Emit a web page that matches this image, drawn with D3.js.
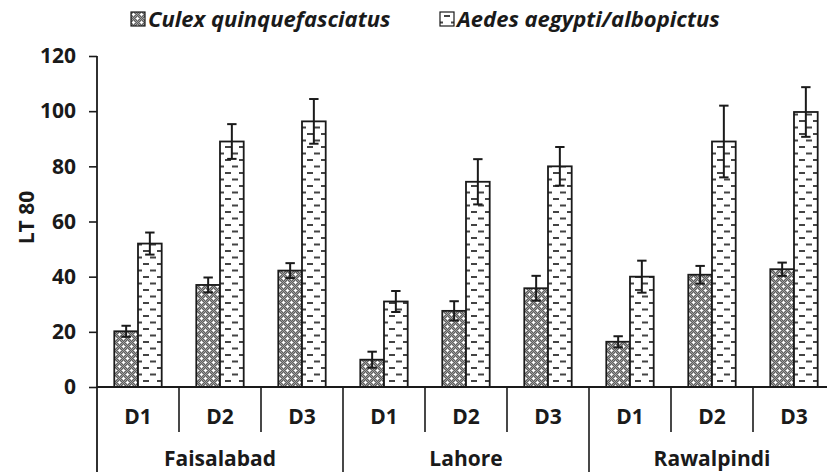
<!DOCTYPE html>
<html>
<head>
<meta charset="utf-8">
<script src="https://cdn.jsdelivr.net/npm/d3@7"></script>
<style>
  body { margin: 0; background: #fff; }
  svg { display: block; font-family: "Open Sans", Lato, sans-serif; }
</style>
</head>
<body>
<div id="chart"></div>
<script>
const width = 827, height = 472;

// data
const regions = ["Faisalabad", "Lahore", "Rawalpindi"];
const doses = ["D1", "D2", "D3"];
const seriesNames = ["Culex quinquefasciatus", "Aedes aegypti/albopictus"];
const culex    = [20.2, 37.0, 42.2, 9.9, 27.6, 35.8, 16.4, 40.7, 42.7];
const culexErr = [2.0, 2.7, 2.7, 2.9, 3.5, 4.5, 2.0, 3.2, 2.4];
const aedes    = [52.0, 89.0, 96.3, 31.0, 74.4, 80.0, 40.0, 89.0, 99.7];
const aedesErr = [4.0, 6.3, 8.1, 3.8, 8.2, 7.0, 5.8, 13.0, 9.0];
const yTicks = [0, 20, 40, 60, 80, 100, 120];

const plotLeft = 97, step = 82, plotBase = 387, plotTop = 56;
const fontSize = 21;
const ink = "#1a1a1a";

const svg = d3.select("#chart").append("svg")
  .attr("width", width)
  .attr("height", height);

// patterns
const defs = svg.append("defs");
const dots = defs.append("pattern")
  .attr("id", "pat-culex")
  .attr("patternUnits", "userSpaceOnUse")
  .attr("width", 8).attr("height", 8);
dots.append("rect").attr("width", 8).attr("height", 8).attr("fill", "#5e5e5e");
for (let i = 0; i < 8; i++) {
  for (let j = 0; j < 8; j++) {
    if ((i + j) % 2 === 0) dots.append("rect").attr("x", i).attr("y", j)
      .attr("width", 1).attr("height", 1).attr("fill", "#a0a0a0");
  }
}
[[2, 2], [6, 6]].forEach(([cx, cy]) => {
  dots.append("rect").attr("x", cx - 1).attr("y", cy).attr("width", 3).attr("height", 1).attr("fill", "#fff");
  dots.append("rect").attr("x", cx).attr("y", cy - 1).attr("width", 1).attr("height", 3).attr("fill", "#fff");
});

const dash = defs.append("pattern")
  .attr("id", "pat-aedes")
  .attr("patternUnits", "userSpaceOnUse")
  .attr("width", 14).attr("height", 13)
  .attr("x", 0).attr("y", 2);
dash.append("rect").attr("width", 14).attr("height", 13).attr("fill", "#fff");
dash.append("rect").attr("x", 4).attr("y", 1).attr("width", 6).attr("height", 2).attr("fill", "#444");
dash.append("rect").attr("x", -3).attr("y", 7.5).attr("width", 6).attr("height", 2).attr("fill", "#444");
dash.append("rect").attr("x", 11).attr("y", 7.5).attr("width", 6).attr("height", 2).attr("fill", "#444");

const fills = ["url(#pat-culex)", "url(#pat-aedes)"];

// scales
const combos = [];
regions.forEach(r => doses.forEach(d => combos.push(r + "|" + d)));

const x = d3.scaleBand()
  .domain(combos)
  .range([plotLeft, plotLeft + step * combos.length])
  .padding(0);

const xSub = d3.scaleBand()
  .domain(seriesNames)
  .range([0, x.bandwidth()])
  .paddingInner(0)
  .paddingOuter(0.73);

const y = d3.scaleLinear()
  .domain([0, 120])
  .range([plotBase, plotTop]);

// y axis
const yAxis = svg.append("g")
  .attr("transform", `translate(${plotLeft},0)`)
  .call(d3.axisLeft(y).tickValues(yTicks).tickSize(8).tickPadding(13).tickSizeOuter(0));
yAxis.select(".domain").remove();
yAxis.selectAll("line").attr("stroke", ink).attr("stroke-width", 1.6);
yAxis.selectAll("text")
  .attr("font-size", fontSize).attr("font-weight", "bold").attr("fill", ink)
  .attr("font-family", "'Open Sans', sans-serif");

svg.append("line")
  .attr("x1", plotLeft).attr("x2", plotLeft)
  .attr("y1", plotTop).attr("y2", height)
  .attr("stroke", ink).attr("stroke-width", 1.8);

svg.append("text")
  .attr("transform", `translate(34, ${(plotTop + plotBase) / 2 - 4}) rotate(-90)`)
  .attr("text-anchor", "middle")
  .attr("font-size", fontSize).attr("font-weight", "bold").attr("fill", ink)
  .text("LT 80");

// bars
const rows = combos.map((c, i) => ({
  key: c,
  vals: [
    {s: seriesNames[0], v: culex[i], e: culexErr[i]},
    {s: seriesNames[1], v: aedes[i], e: aedesErr[i]}
  ]
}));

const groups = svg.append("g").selectAll("g")
  .data(rows)
  .enter().append("g")
  .attr("transform", d => `translate(${x(d.key)},0)`);

groups.selectAll("rect")
  .data(d => d.vals)
  .enter().append("rect")
  .attr("x", d => xSub(d.s))
  .attr("y", d => y(d.v))
  .attr("width", xSub.bandwidth())
  .attr("height", d => plotBase - y(d.v))
  .attr("fill", (d, i) => fills[i])
  .attr("stroke", ink)
  .attr("stroke-width", 1.8);

// error bars
const err = groups.selectAll("g.err")
  .data(d => d.vals)
  .enter().append("g").attr("class", "err");
const cx = d => xSub(d.s) + xSub.bandwidth() / 2;
err.append("line")
  .attr("x1", cx).attr("x2", cx)
  .attr("y1", d => y(d.v + d.e)).attr("y2", d => y(d.v - d.e))
  .attr("stroke", ink).attr("stroke-width", 2);
err.append("line")
  .attr("x1", d => cx(d) - 4.7).attr("x2", d => cx(d) + 4.7)
  .attr("y1", d => y(d.v + d.e)).attr("y2", d => y(d.v + d.e))
  .attr("stroke", ink).attr("stroke-width", 2);
err.append("line")
  .attr("x1", d => cx(d) - 4.7).attr("x2", d => cx(d) + 4.7)
  .attr("y1", d => y(d.v - d.e)).attr("y2", d => y(d.v - d.e))
  .attr("stroke", ink).attr("stroke-width", 2);

// category axis
svg.append("line")
  .attr("x1", plotLeft).attr("x2", plotLeft + step * combos.length)
  .attr("y1", plotBase).attr("y2", plotBase)
  .attr("stroke", ink).attr("stroke-width", 1.8);

combos.forEach((c, i) => {
  if (i === 0) return;
  const bx = x(c);
  const isGroup = i % doses.length === 0;
  svg.append("line")
    .attr("x1", bx).attr("x2", bx)
    .attr("y1", plotBase).attr("y2", isGroup ? height : 432)
    .attr("stroke", ink).attr("stroke-width", 1.6);
});

svg.append("g").selectAll("text")
  .data(combos)
  .enter().append("text")
  .attr("x", d => x(d) + x.bandwidth() / 2)
  .attr("y", 424)
  .attr("text-anchor", "middle")
  .attr("font-size", fontSize).attr("font-weight", "bold").attr("fill", ink)
  .text(d => d.split("|")[1]);

svg.append("g").selectAll("text")
  .data(regions)
  .enter().append("text")
  .attr("x", (d, i) => x(combos[i * 3]) + x.bandwidth() * 1.5)
  .attr("y", 466)
  .attr("text-anchor", "middle")
  .attr("font-size", fontSize).attr("font-weight", "bold").attr("fill", ink)
  .text(d => d);

// legend
const legendX = [131, 440];
const legend = svg.append("g").selectAll("g")
  .data(seriesNames)
  .enter().append("g")
  .attr("transform", (d, i) => `translate(${legendX[i]}, 12)`);
legend.append("rect")
  .attr("width", 14).attr("height", 14)
  .attr("fill", (d, i) => fills[i])
  .attr("stroke", ink).attr("stroke-width", 1.2);
legend.append("text")
  .attr("x", 17).attr("y", 14.5)
  .attr("font-size", 22).attr("font-weight", "bold").attr("font-style", "italic")
  .attr("fill", ink)
  .text(d => d);
</script>
</body>
</html>
